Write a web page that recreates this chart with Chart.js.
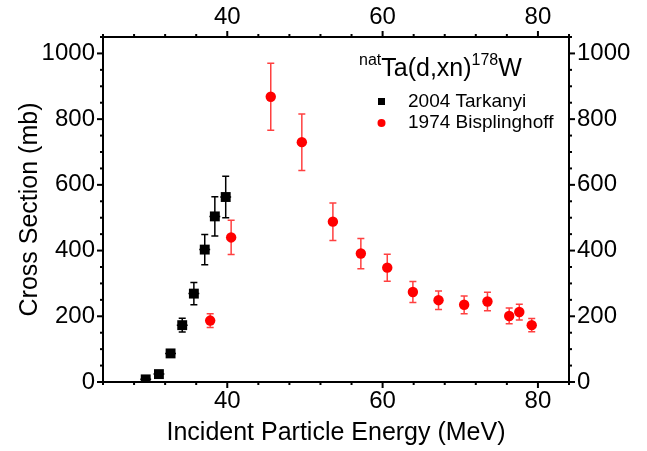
<!DOCTYPE html>
<html>
<head>
<meta charset="utf-8">
<script src="https://cdn.jsdelivr.net/npm/chart.js@4"></script>
<style>
  html, body { margin: 0; padding: 0; background: #fff; }
  #wrap { width: 647px; height: 451px; }
</style>
</head>
<body>
<div id="wrap"><canvas id="xsChart" width="647" height="451"></canvas></div>
<script>
    // 2004 Tarkanyi
    var tarkEnergy = [29.5, 31.2, 32.7, 34.2, 35.7, 37.1, 38.4, 39.8];
    var tarkXs     = [8, 24, 87, 173, 269, 403, 504, 563];
    var tarkErr    = [4, 6, 10, 21, 34, 46, 60, 63];
    var tarkEErr   = [0.7, 0.7, 0.7, 0.7, 0.7, 0.7, 0.7, 0.7];

    // 1974 Bisplinghoff
    var bispEnergy = [37.8, 40.5, 45.6, 49.6, 53.6, 57.2, 60.6, 63.9, 67.2, 70.5, 73.5, 76.3, 77.6, 79.2];
    var bispXs     = [187, 440, 868, 730, 488, 391, 348, 274, 249, 235, 245, 201, 213, 173];
    var bispErr    = [21, 52, 102, 86, 57, 46, 41, 32, 28, 27, 28, 24, 24, 20];

    var xTickLabels = [40, 60, 80];
    var yTickLabels = [0, 200, 400, 600, 800, 1000];

    var fontFamily = '"Liberation Sans", Arial, sans-serif';

    function toPoints(xs, ys) {
        var pts = [];
        for (var i = 0; i < xs.length; i++) pts.push({x: xs[i], y: ys[i]});
        return pts;
    }

    // vertical (and horizontal) error bars from the data arrays
    var errorBars = {
        id: 'errorBars',
        beforeDatasetsDraw: function(chart) {
            var ctx = chart.ctx;
            var xs = chart.scales.x, ys = chart.scales.y;
            chart.data.datasets.forEach(function(ds) {
                ctx.save();
                ctx.strokeStyle = ds.errColor;
                ctx.lineWidth = 1.5;
                for (var i = 0; i < ds.data.length; i++) {
                    var px = xs.getPixelForValue(ds.data[i].x);
                    var top = ys.getPixelForValue(ds.data[i].y + ds.yErr[i]);
                    var bot = ys.getPixelForValue(ds.data[i].y - ds.yErr[i]);
                    ctx.beginPath();
                    ctx.moveTo(px, top); ctx.lineTo(px, bot);
                    ctx.moveTo(px - 3.5, top); ctx.lineTo(px + 3.5, top);
                    ctx.moveTo(px - 3.5, bot); ctx.lineTo(px + 3.5, bot);
                    if (ds.xErr) {
                        var py = ys.getPixelForValue(ds.data[i].y);
                        var l = xs.getPixelForValue(ds.data[i].x - ds.xErr[i]);
                        var r = xs.getPixelForValue(ds.data[i].x + ds.xErr[i]);
                        ctx.moveTo(l, py); ctx.lineTo(r, py);
                    }
                    ctx.stroke();
                }
                ctx.restore();
            });
        }
    };

    // outward tick marks, long on labelled values
    var tickMarks = {
        id: 'tickMarks',
        afterDraw: function(chart) {
            var ctx = chart.ctx;
            var a = chart.chartArea;
            ctx.save();
            ctx.strokeStyle = '#000';
            ctx.lineWidth = 2;
            ['x', 'x2', 'y', 'y2'].forEach(function(id) {
                var sc = chart.scales[id];
                sc.ticks.forEach(function(t) {
                    var major = (id[0] === 'x') ? xTickLabels.indexOf(t.value) >= 0 : yTickLabels.indexOf(t.value) >= 0;
                    var len = major ? 6 : 3;
                    var p = sc.getPixelForValue(t.value);
                    ctx.beginPath();
                    if (id === 'x') { ctx.moveTo(p, a.bottom); ctx.lineTo(p, a.bottom + len); }
                    if (id === 'x2') { ctx.moveTo(p, a.top); ctx.lineTo(p, a.top - len); }
                    if (id === 'y') { ctx.moveTo(a.left, p); ctx.lineTo(a.left - len, p); }
                    if (id === 'y2') { ctx.moveTo(a.right, p); ctx.lineTo(a.right + len, p); }
                    ctx.stroke();
                });
            });
            ctx.restore();
        }
    };

    // reaction title and legend inside the plot
    var annotation = {
        id: 'annotation',
        afterDraw: function(chart) {
            var ctx = chart.ctx;
            ctx.save();
            ctx.fillStyle = '#000';
            ctx.textBaseline = 'alphabetic';
            var big = '25px ' + fontFamily, small = '16px ' + fontFamily;
            var parts = [['nat', small, 65], ['Ta(d,xn)', big, 76], ['178', small, 65], ['W', big, 76]];
            var x = 359;
            parts.forEach(function(p) {
                ctx.font = p[1];
                ctx.fillText(p[0], x, p[2]);
                x += ctx.measureText(p[0]).width;
            });

            ctx.font = '19px ' + fontFamily;
            ctx.textBaseline = 'middle';
            ctx.fillRect(378, 98, 7, 7);
            ctx.fillText('2004 Tarkanyi', 408, 102);
            ctx.fillStyle = '#ff0000';
            ctx.beginPath();
            ctx.arc(381.5, 123, 4, 0, Math.PI * 2);
            ctx.fill();
            ctx.fillStyle = '#000';
            ctx.fillText('1974 Bisplinghoff', 408, 123);
            ctx.restore();
        }
    };

    function axisOpts(pos, isX, size, showTitle) {
        var o = {
            type: 'linear',
            position: pos,
            min: isX ? 24 : 0,
            max: isX ? 84 : 1050,
            grid: { display: false, drawTicks: false },
            border: { display: true, color: '#000', width: 2 },
            ticks: {
                stepSize: isX ? 4 : 50,
                autoSkip: false,
                maxRotation: 0,
                padding: isX ? 5 : 8,
                color: '#000',
                font: { family: fontFamily, size: 24 },
                callback: function(v) {
                    var list = isX ? xTickLabels : yTickLabels;
                    return list.indexOf(v) >= 0 ? String(v) : '';
                }
            },
            afterFit: function(scale) {
                if (isX) scale.height = size; else scale.width = size;
            }
        };
        if (showTitle) {
            o.title = {
                display: true,
                text: isX ? 'Incident Particle Energy (MeV)' : 'Cross Section (mb)',
                color: '#000',
                font: { family: fontFamily, size: 25 },
                padding: isX ? { top: 0, bottom: 3 } : { top: 15, bottom: 0 }
            };
        }
        return o;
    }

    var ctx = document.getElementById('xsChart').getContext('2d');
    var xsChart = new Chart(ctx, {
        type: 'scatter',
        data: {
            datasets: [{
                label: '2004 Tarkanyi',
                data: toPoints(tarkEnergy, tarkXs),
                yErr: tarkErr,
                xErr: tarkEErr,
                errColor: '#000',
                pointStyle: 'rect',
                pointRadius: 7,
                backgroundColor: '#000',
                borderColor: '#000',
                borderWidth: 0,
                xAxisID: 'x',
                yAxisID: 'y'
            }, {
                label: '1974 Bisplinghoff',
                data: toPoints(bispEnergy, bispXs),
                yErr: bispErr,
                errColor: 'rgba(255, 30, 30, 0.85)',
                pointStyle: 'circle',
                pointRadius: 5.2,
                backgroundColor: '#ff0000',
                borderColor: '#ff0000',
                borderWidth: 0,
                xAxisID: 'x',
                yAxisID: 'y'
            }]
        },
        options: {
            responsive: false,
            animation: false,
            layout: { padding: 0 },
            scales: {
                x: axisOpts('bottom', true, 69, true),
                x2: axisOpts('top', true, 37, false),
                y: axisOpts('left', false, 103, true),
                y2: axisOpts('right', false, 78, false)
            },
            plugins: {
                legend: { display: false },
                tooltip: { enabled: false }
            }
        },
        plugins: [errorBars, tickMarks, annotation]
    });
</script>
</body>
</html>
